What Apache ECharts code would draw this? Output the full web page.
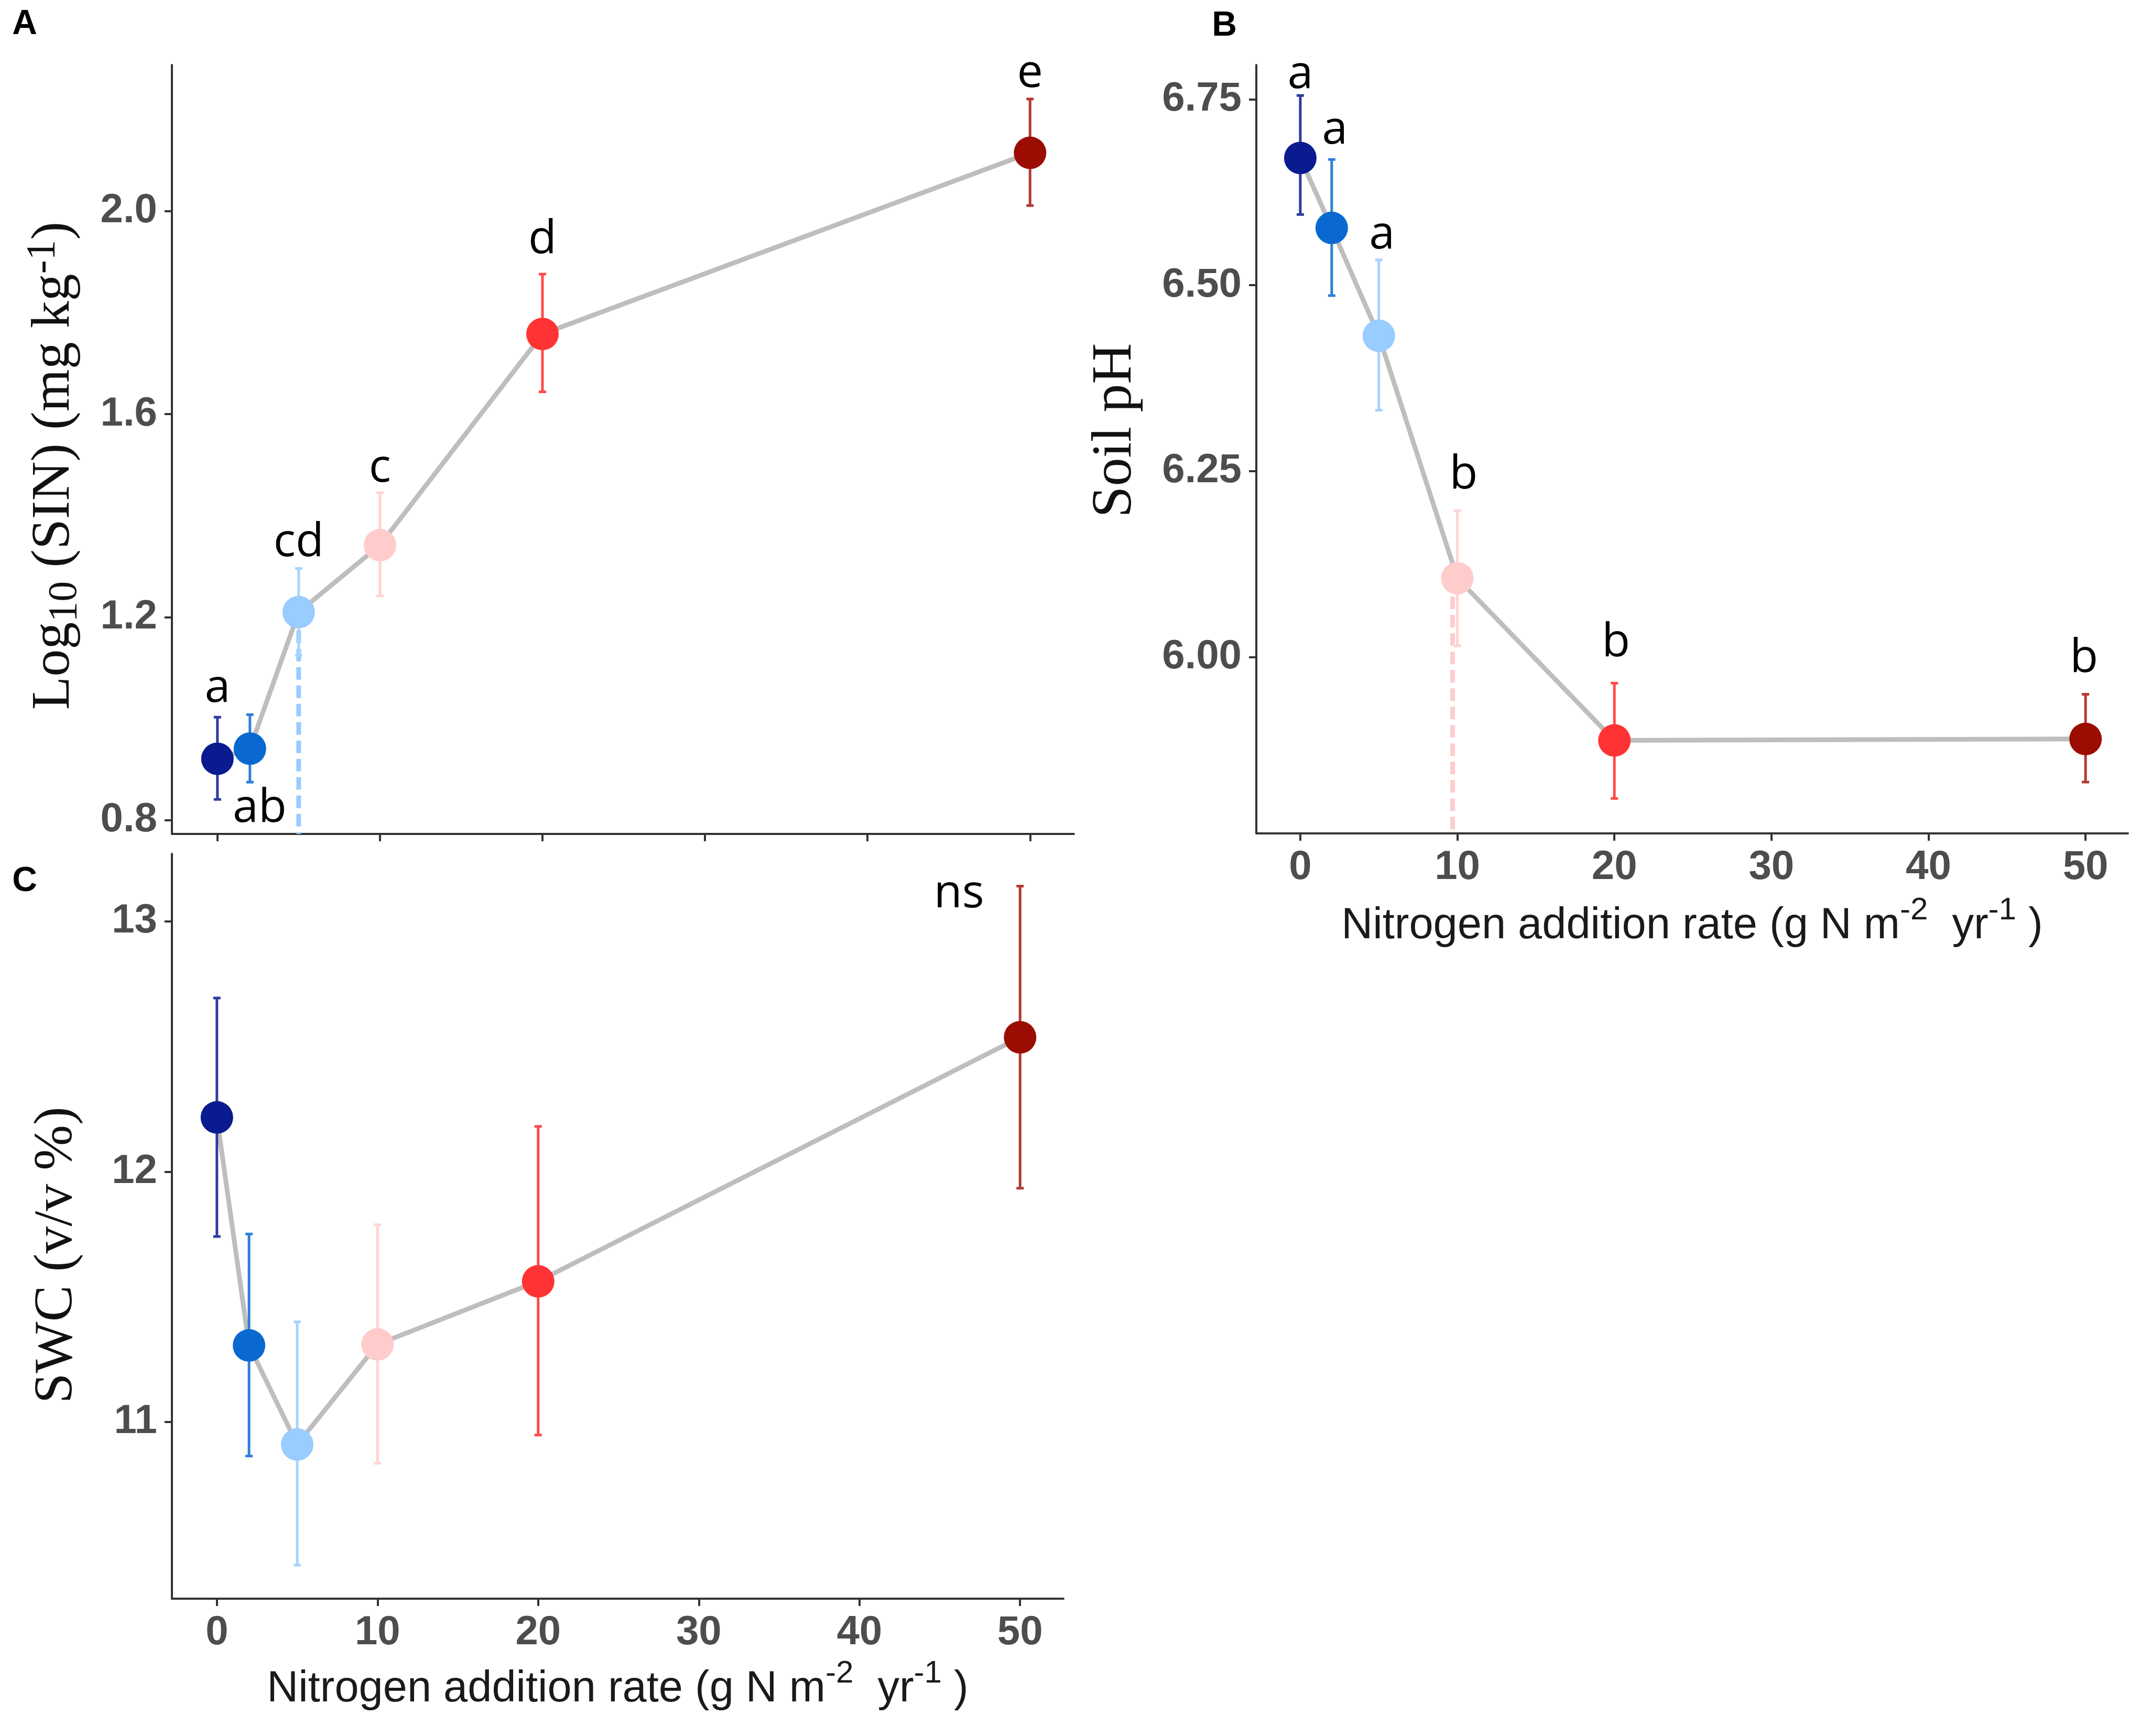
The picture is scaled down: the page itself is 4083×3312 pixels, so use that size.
<!DOCTYPE html>
<html>
<head>
<meta charset="utf-8">
<script src="https://cdn.jsdelivr.net/npm/echarts@6/dist/echarts.min.js"></script>
<style>
html,body{margin:0;padding:0;background:#fff;}
#chart{width:4083px;height:3312px;}
</style>
</head>
<body>
<div id="chart"></div>
<script>
// ---- data ----
const xRates = [0, 2, 5, 10, 20, 50];
const xTicks = [0, 10, 20, 30, 40, 50];

const sinMean = [0.921, 0.941, 1.210, 1.342, 1.758, 2.115];
const sinLow  = [0.841, 0.875, 1.125, 1.242, 1.644, 2.011];
const sinHigh = [1.003, 1.008, 1.296, 1.445, 1.876, 2.221];
const sinTicks = [0.8, 1.2, 1.6, 2.0];
const sinLetters = ['a', 'ab', 'cd', 'c', 'd', 'e'];
const sinLetterX = [0, 2.6, 5, 10, 20, 50];
const sinLetterY = [1.059, 0.823, 1.346, 1.493, 1.943, 2.27];
const sinThreshold = 5;

const phMean = [6.671, 6.577, 6.432, 6.106, 5.888, 5.890];
const phLow  = [6.595, 6.486, 6.332, 6.015, 5.810, 5.832];
const phHigh = [6.755, 6.669, 6.534, 6.197, 5.965, 5.950];
const phTicks = [6.00, 6.25, 6.50, 6.75];
const phLetters = ['a', 'a', 'a', 'b', 'b', 'b'];
const phLetterX = [0, 2.2, 5.2, 10.4, 20.1, 49.9];
const phLetterY = [6.783, 6.708, 6.567, 6.244, 6.019, 5.998];
const phThreshold = 9.7;

const swcMean = [12.217, 11.306, 10.910, 11.310, 11.562, 12.537];
const swcLow  = [11.741, 10.864, 10.428, 10.835, 10.948, 11.934];
const swcHigh = [12.694, 11.751, 11.400, 11.788, 12.181, 13.141];
const swcTicks = [11, 12, 13];
const swcLetters = ['ns'];
const swcLetterX = [46.2];
const swcLetterY = [13.109];

// ---- styles ----
const ptColors  = ['#0A1A8F', '#0A69D0', '#99CCFF', '#FFCCCC', '#FF3333', '#9B0D02'];
const errColors = ['#2D3C9F', '#2F7FD6', '#A8D3FF', '#FFD3D3', '#FF4A4A', '#B03A33'];
const X_MIN = -2.8, X_MAX = 52.7;
const ranges = [[0.773, 2.288], [5.763, 6.796], [10.294, 13.27]];

const tickFont = { fontFamily: 'Liberation Sans', fontWeight: 'bold', fontSize: 78, color: '#4D4D4D' };
const axisLineStyle = { onZero: false, lineStyle: { color: '#333333', width: 4 } };
const axisTickStyle = (vals) => ({ show: true, length: 14, lineStyle: { color: '#333333', width: 4 }, customValues: vals });

const serifName = (fs, pad) => ({
  fontFamily: 'Liberation Serif', fontSize: fs, color: '#111111', lineHeight: 120, padding: pad,
  rich: {
    n: { fontFamily: 'Liberation Serif', fontSize: fs, lineHeight: 120, color: '#111111' },
    sub: { fontFamily: 'Liberation Serif', fontSize: 78, lineHeight: 58, verticalAlign: 'bottom', color: '#111111' },
    sup: { fontFamily: 'Liberation Serif', fontSize: 78, lineHeight: 94, verticalAlign: 'top', color: '#111111' }
  }
});
const xNameText = '{n|Nitrogen addition rate (g N m}{sup|-2}{n|  yr}{sup|-1}{n| )}';
const xNameStyle = {
  fontFamily: 'Liberation Sans', fontSize: 83, color: '#1A1A1A', lineHeight: 120,
  rich: {
    n: { fontFamily: 'Liberation Sans', fontSize: 83, lineHeight: 120, color: '#1A1A1A' },
    sup: { fontFamily: 'Liberation Sans', fontSize: 60, lineHeight: 40, verticalAlign: 'top', color: '#1A1A1A' }
  }
};

function makeX(gridIndex, showLabels) {
  return {
    type: 'value', gridIndex, min: X_MIN, max: X_MAX,
    axisLine: axisLineStyle,
    axisTick: axisTickStyle(xTicks),
    axisLabel: Object.assign({ show: showLabels, margin: 26, customValues: xTicks }, tickFont),
    splitLine: { show: false },
    name: showLabels ? xNameText : '',
    nameLocation: 'middle',
    nameGap: gridIndex === 1 ? 117 : 113,
    nameTextStyle: xNameStyle
  };
}
function makeY(gridIndex, range, ticks, decimals, name, gap, fs, pad) {
  return {
    type: 'value', gridIndex, min: range[0], max: range[1],
    axisLine: Object.assign({ show: true }, axisLineStyle),
    axisTick: axisTickStyle(ticks),
    axisLabel: Object.assign({ margin: 28, customValues: ticks, formatter: v => v.toFixed(decimals) }, tickFont),
    splitLine: { show: false },
    name, nameLocation: 'middle', nameGap: gap,
    nameTextStyle: serifName(fs, pad)
  };
}

function panelSeries(idx, mean, low, high, letters, lx, ly, threshold, threshColor) {
  const out = [];
  out.push({
    type: 'line', xAxisIndex: idx, yAxisIndex: idx, z: 2, silent: true,
    data: xRates.map((x, i) => [x, mean[i]]),
    showSymbol: false, lineStyle: { color: '#BEBEBE', width: 9 }
  });
  if (threshold != null) {
    const k = xRates.indexOf(threshold) >= 0 ? xRates.indexOf(threshold) : 3;
    out.push({
      type: 'custom', xAxisIndex: idx, yAxisIndex: idx, z: 2, silent: true,
      data: [[threshold, mean[k]]],
      renderItem: (params, api) => {
        const p = api.coord([api.value(0), api.value(1)]);
        const bottom = params.coordSys.y + params.coordSys.height;
        return { type: 'line', shape: { x1: p[0], y1: p[1], x2: p[0], y2: bottom },
          style: { stroke: threshColor, lineWidth: 9, lineDash: [24, 11] } };
      }
    });
  }
  out.push({
    type: 'custom', xAxisIndex: idx, yAxisIndex: idx, z: 3, silent: true,
    data: xRates.map((x, i) => [x, low[i], high[i]]),
    encode: { x: 0, y: [1, 2] },
    renderItem: (params, api) => {
      const x = api.value(0);
      const lo = api.coord([x, api.value(1)]);
      const hi = api.coord([x, api.value(2)]);
      const c = errColors[params.dataIndex];
      const st = { stroke: c, lineWidth: 5 };
      const cap = 7;
      return { type: 'group', children: [
        { type: 'line', shape: { x1: lo[0], y1: lo[1], x2: hi[0], y2: hi[1] }, style: st },
        { type: 'line', shape: { x1: lo[0] - cap, y1: lo[1], x2: lo[0] + cap, y2: lo[1] }, style: st },
        { type: 'line', shape: { x1: hi[0] - cap, y1: hi[1], x2: hi[0] + cap, y2: hi[1] }, style: st }
      ] };
    }
  });
  out.push({
    type: 'scatter', xAxisIndex: idx, yAxisIndex: idx, z: 4, silent: true,
    symbol: 'circle', symbolSize: 62,
    data: xRates.map((x, i) => ({ value: [x, mean[i]], itemStyle: { color: ptColors[i], opacity: 1 } }))
  });
  out.push({
    type: 'scatter', xAxisIndex: idx, yAxisIndex: idx, z: 5, silent: true,
    symbol: 'circle', symbolSize: 1, itemStyle: { color: 'rgba(0,0,0,0)', opacity: 1 },
    data: letters.map((t, i) => [lx[i], ly[i], t]),
    label: { show: true, position: 'inside', formatter: p => p.value[2], opacity: 1,
      fontFamily: 'Open Sans', fontSize: 88, color: '#000000' }
  });
  return out;
}

const chart = echarts.init(document.getElementById('chart'), null, { renderer: 'canvas' });
chart.setOption({
  animation: false,
  backgroundColor: '#ffffff',
  grid: [
    { left: 328, top: 124, width: 1721, height: 1467 },
    { left: 2397, top: 124, width: 1663, height: 1466 },
    { left: 328, top: 1629, width: 1701, height: 1421 }
  ],
  xAxis: [makeX(0, false), makeX(1, true), makeX(2, true)],
  yAxis: [
    makeY(0, ranges[0], sinTicks, 1, '{n|Log}{sub|10}{n| (SIN) (mg kg}{sup|-1}{n|)}', 164, 104, [0, 62, 0, 0]),
    makeY(1, ranges[1], phTicks, 2, '{n|Soil pH}', 208, 108, [0, 0, 0, 72]),
    makeY(2, ranges[2], swcTicks, 0, '{n|SWC (v/v %)}', 159, 104, [0, 110, 0, 0])
  ],
  series: [
    ...panelSeries(0, sinMean, sinLow, sinHigh, sinLetters, sinLetterX, sinLetterY, sinThreshold, '#99CCFF'),
    ...panelSeries(1, phMean, phLow, phHigh, phLetters, phLetterX, phLetterY, phThreshold, '#FFCCCC'),
    ...panelSeries(2, swcMean, swcLow, swcHigh, swcLetters, swcLetterX, swcLetterY, null, null)
  ],
  graphic: [
    { type: 'text', x: 47, y: 47, style: { text: 'A', fontFamily: 'Liberation Sans', fontWeight: 'bold', fontSize: 66, fill: '#000', align: 'center', verticalAlign: 'middle' } },
    { type: 'text', x: 2336, y: 50, style: { text: 'B', fontFamily: 'Liberation Sans', fontWeight: 'bold', fontSize: 66, fill: '#000', align: 'center', verticalAlign: 'middle' } },
    { type: 'text', x: 47, y: 1682, style: { text: 'C', fontFamily: 'Liberation Sans', fontWeight: 'bold', fontSize: 66, fill: '#000', align: 'center', verticalAlign: 'middle' } }
  ]
});
</script>
</body>
</html>
